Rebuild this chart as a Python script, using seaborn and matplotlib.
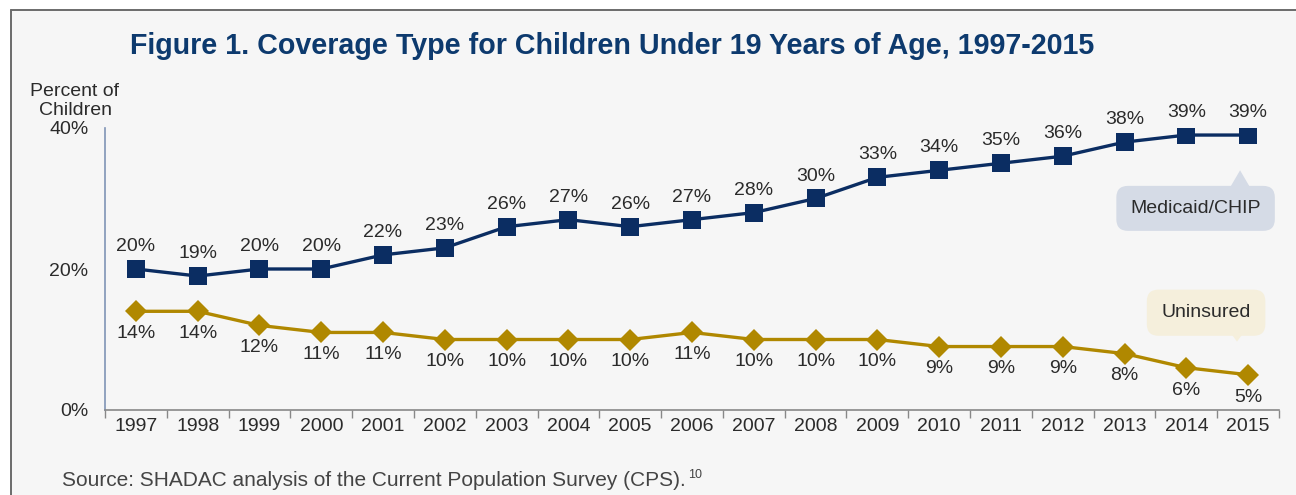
import matplotlib
matplotlib.use("Agg")
import matplotlib.pyplot as plt
import seaborn as sns
import pandas as pd
import numpy as np
from matplotlib.patches import Rectangle, Polygon
from matplotlib.lines import Line2D

years = ["1997", "1998", "1999", "2000", "2001", "2002", "2003", "2004", "2005", "2006",
         "2007", "2008", "2009", "2010", "2011", "2012", "2013", "2014", "2015"]
medicaid = [20, 19, 20, 20, 22, 23, 26, 27, 26, 27, 28, 30, 33, 34, 35, 36, 38, 39, 39]
uninsured = [14, 14, 12, 11, 11, 10, 10, 10, 10, 11, 10, 10, 10, 9, 9, 9, 8, 6, 5]
y_ticks = [0, 20, 40]
title = "Figure 1. Coverage Type for Children Under 19 Years of Age, 1997-2015"
source = "Source: SHADAC analysis of the Current Population Survey (CPS)."

NAVY = "#0b2d62"
GOLD = "#b08800"
TXT = "#2b2b2b"
FS = 14

sns.set_theme(style="white")
plt.rcParams["font.family"] = ["Liberation Sans", "DejaVu Sans"]

df = pd.DataFrame({"idx": np.arange(len(years)), "year": years,
                   "Medicaid/CHIP": medicaid, "Uninsured": uninsured})

W, H = 1296, 495
fig = plt.figure(figsize=(W / 100, H / 100), dpi=100)
fig.patch.set_facecolor("white")
fig.patches.append(Rectangle((11 / W, 0), 1, 1 - 10 / H, transform=fig.transFigure,
                             facecolor="#f6f6f6", edgecolor="none", zorder=-10))
fig.lines.append(Line2D([11 / W, 11 / W], [0, 1 - 10 / H], transform=fig.transFigure,
                        color="#6b6b6b", linewidth=1.4))
fig.lines.append(Line2D([11 / W, 1], [1 - 10 / H, 1 - 10 / H], transform=fig.transFigure,
                        color="#6b6b6b", linewidth=1.4))

ax = fig.add_axes([105 / W, 85 / H, (1279 - 105) / W, (410 - 128) / H])
ax.set_facecolor("none")

sns.lineplot(data=df, x="idx", y="Medicaid/CHIP", ax=ax, color=NAVY, linewidth=2.4,
             marker="s", markersize=13, markeredgewidth=0, markerfacecolor=NAVY)
sns.lineplot(data=df, x="idx", y="Uninsured", ax=ax, color=GOLD, linewidth=2.4,
             marker="D", markersize=11, markeredgewidth=0, markerfacecolor=GOLD)

ax.set_xlim(-0.5, len(years) - 0.5)
ax.set_ylim(0, 40)
ax.set_xlabel("")
ax.set_ylabel("")

for i, (m, u) in enumerate(zip(medicaid, uninsured)):
    ax.annotate(f"{m}%", (i, m), xytext=(0, 10), textcoords="offset points",
                ha="center", va="bottom", fontsize=FS, color=TXT)
    ax.annotate(f"{u}%", (i, u), xytext=(0, -10), textcoords="offset points",
                ha="center", va="top", fontsize=FS, color=TXT)

ax.set_xticks(np.arange(len(years)))
ax.set_xticklabels(years, fontsize=FS, color=TXT)
ax.set_xticks(np.arange(len(years) + 1) - 0.5, minor=True)
ax.tick_params(axis="x", which="major", length=0, pad=6)
ax.tick_params(axis="x", which="minor", length=6, width=1, color="#888888", direction="out", bottom=True)
ax.set_yticks(y_ticks)
ax.set_yticklabels([f"{t}%" for t in y_ticks], fontsize=FS, color=TXT)
ax.tick_params(axis="y", length=0, pad=12)

for s in ["top", "right"]:
    ax.spines[s].set_visible(False)
ax.spines["left"].set_color("#8094b6")
ax.spines["left"].set_linewidth(1.2)
ax.spines["bottom"].set_color("#888888")
ax.spines["bottom"].set_linewidth(1.2)

# callouts
n = len(years) - 1
ax.text(n - 0.85, 28.6, "Medicaid/CHIP", ha="center", va="center", fontsize=FS, color=TXT,
        bbox=dict(boxstyle="round,pad=0.72,rounding_size=0.6", facecolor="#d5dbe6", edgecolor="none"))
ax.add_patch(Polygon([[n - 0.33, 31.0], [n - 0.13, 34.0], [n + 0.07, 31.0]], closed=True,
                     facecolor="#d5dbe6", edgecolor="none"))
ax.text(n - 0.68, 13.8, "Uninsured", ha="center", va="center", fontsize=FS, color=TXT,
        bbox=dict(boxstyle="round,pad=0.75,rounding_size=0.6", facecolor="#f5efdc", edgecolor="none"))
ax.add_patch(Polygon([[n - 0.33, 11.5], [n - 0.18, 9.7], [n - 0.03, 11.5]], closed=True,
                     facecolor="#f5efdc", edgecolor="none"))

fig.text(612 / W, 1 - 46 / H, title, ha="center", va="center", fontsize=20.6,
         fontweight="bold", color="#0d3a6e")
fig.text(75 / W, 1 - 101 / H, "Percent of\nChildren", ha="center", va="center",
         fontsize=FS, color=TXT, linespacing=1.1)
src = fig.text(62 / W, 1 - 481 / H, source, ha="left", va="center", fontsize=15, color="#444444")
fig.canvas.draw()
bb = src.get_window_extent()
fig.text(bb.x1 / W + 0.002, 1 - 475 / H, "10", ha="left", va="center", fontsize=9, color="#444444")

fig.savefig("out.png", dpi=100, facecolor=fig.get_facecolor())
